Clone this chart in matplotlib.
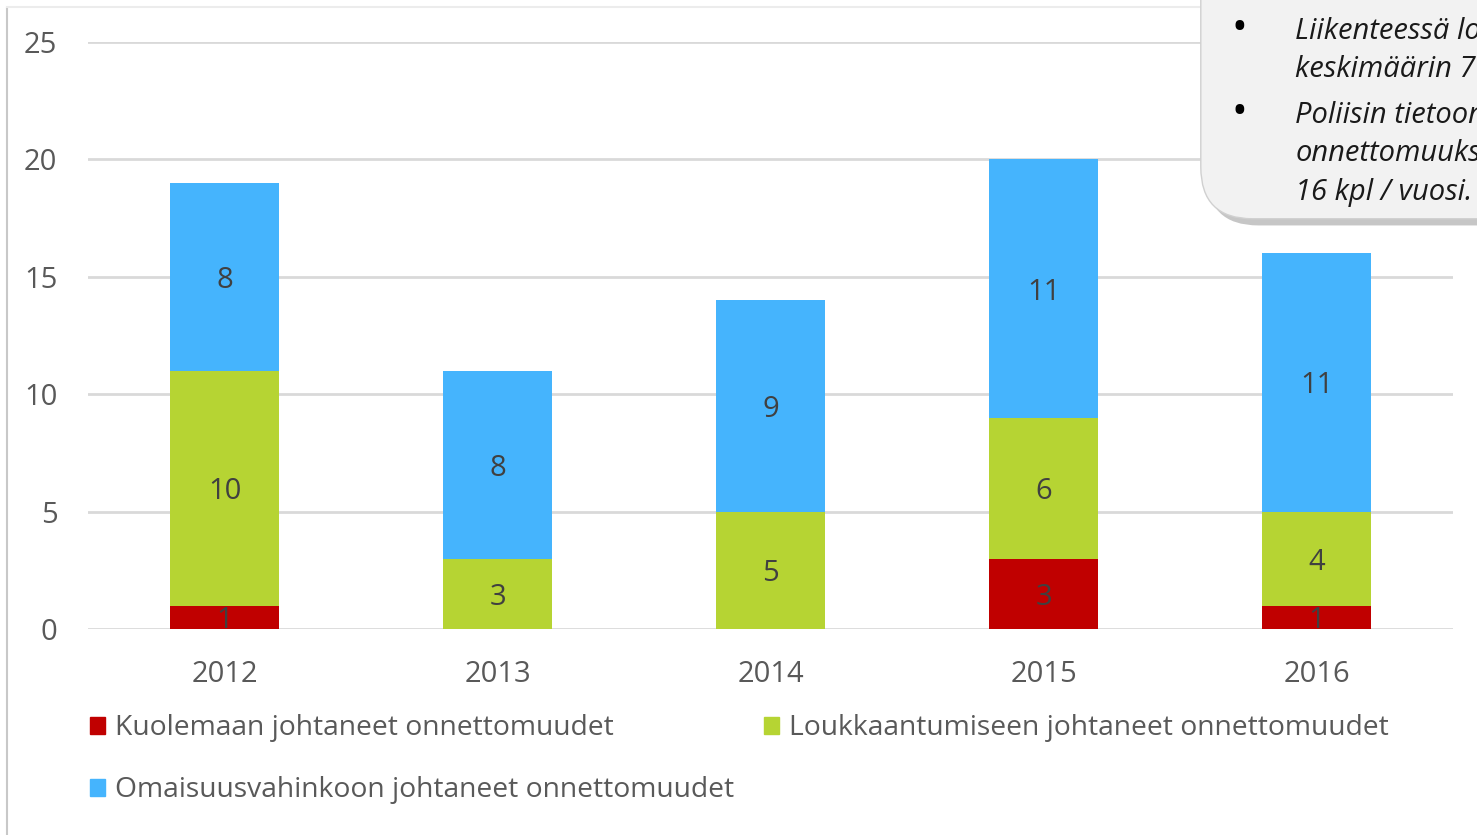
import numpy as np
import matplotlib
matplotlib.use("Agg")
from matplotlib import pyplot as plt
from matplotlib.patches import FancyBboxPatch, Rectangle
from matplotlib.lines import Line2D

# data
vuodet = ["2012", "2013", "2014", "2015", "2016"]
kuolema = [1, 0, 0, 3, 1]
loukkaantuminen = [10, 3, 5, 6, 4]
omaisuus = [8, 8, 9, 11, 11]
sarjat = ["Kuolemaan johtaneet onnettomuudet",
          "Loukkaantumiseen johtaneet onnettomuudet",
          "Omaisuusvahinkoon johtaneet onnettomuudet"]
varit = ["#c00000", "#b6d433", "#45b4fd"]
laatikko = ["Liikenteessä lo", "keskimäärin 7", "Poliisin tietoon",
            "onnettomuuks", "16 kpl / vuosi."]

plt.rcParams["font.family"] = ["Open Sans", "DejaVu Sans"]

fig = plt.figure(figsize=(14.77, 8.35), dpi=100)
ax = fig.add_axes([0.0596, 0.2467, 0.9242, 0.703])

x = np.arange(len(vuodet))
w = 0.4
pohja = np.zeros(len(vuodet))
for arvot, vari in zip([kuolema, loukkaantuminen, omaisuus], varit):
    arvot = np.array(arvot)
    ax.bar(x, arvot, w, bottom=pohja, color=vari, zorder=3)
    for xi, b, v in zip(x, pohja, arvot):
        if v > 0:
            ax.text(xi, b + v / 2, str(v), ha="center", va="center_baseline",
                    fontsize=21, color="#404040", zorder=4)
    pohja = pohja + arvot

ax.set_xlim(-0.5, len(vuodet) - 0.5)
ax.set_ylim(0, 25)
ax.set_yticks(range(0, 26, 5))
ax.set_xticks(x)
ax.set_xticklabels(vuodet)
ax.yaxis.grid(True, color="#d9d9d9", linewidth=2, zorder=0)
for s in ax.spines.values():
    s.set_visible(False)
ax.tick_params(length=0, labelsize=21, colors="#595959")
ax.tick_params(axis="y", pad=22)
ax.tick_params(axis="x", pad=22)

# legend drawn in rows
kahvat = [Rectangle((0, 0), 1, 1, color=c) for c in varit]
leg = fig.legend([kahvat[0], kahvat[2], kahvat[1]],
                 [sarjat[0], sarjat[2], sarjat[1]],
                 ncol=2, loc="upper left", bbox_to_anchor=(0.053, 0.158),
                 frameon=False, fontsize=20.3, labelcolor="#595959",
                 handlelength=0.55, handleheight=0.55, handletextpad=0.35,
                 columnspacing=1.05, labelspacing=1.2, borderaxespad=0)

# frame lines of the slide
fig.add_artist(Line2D([0.0047, 0.0047], [0.0, 0.99], color="#c8c8c8", lw=1.5))
fig.add_artist(Line2D([0.0047, 0.82], [0.992, 0.992], color="#ececec", lw=1.5))

# callout box
varjo = FancyBboxPatch((0.817, 0.73), 0.3, 0.4,
                       boxstyle="round,pad=0,rounding_size=0.035",
                       transform=fig.transFigure, facecolor="#a0a0a0",
                       edgecolor="none", alpha=0.6, zorder=5,
                       mutation_aspect=1477 / 835)
fig.add_artist(varjo)
boksi = FancyBboxPatch((0.813, 0.738), 0.3, 0.4,
                       boxstyle="round,pad=0,rounding_size=0.035",
                       transform=fig.transFigure, facecolor="#f2f2f2",
                       edgecolor="#d0d0d0", lw=1, zorder=6,
                       mutation_aspect=1477 / 835)
fig.add_artist(boksi)
rivit_y = [0.962, 0.917, 0.862, 0.816, 0.770]
for i, (teksti, yy) in enumerate(zip(laatikko, rivit_y)):
    fig.text(0.877, yy, teksti, fontsize=21, style="italic",
             color="#1a1a1a", va="center", ha="left", zorder=7)
    if i in (0, 2):
        fig.text(0.839, yy + 0.003, "•", fontsize=30, color="#000000",
                 va="center", ha="center", zorder=7)

fig.savefig("out.png", dpi=100)
